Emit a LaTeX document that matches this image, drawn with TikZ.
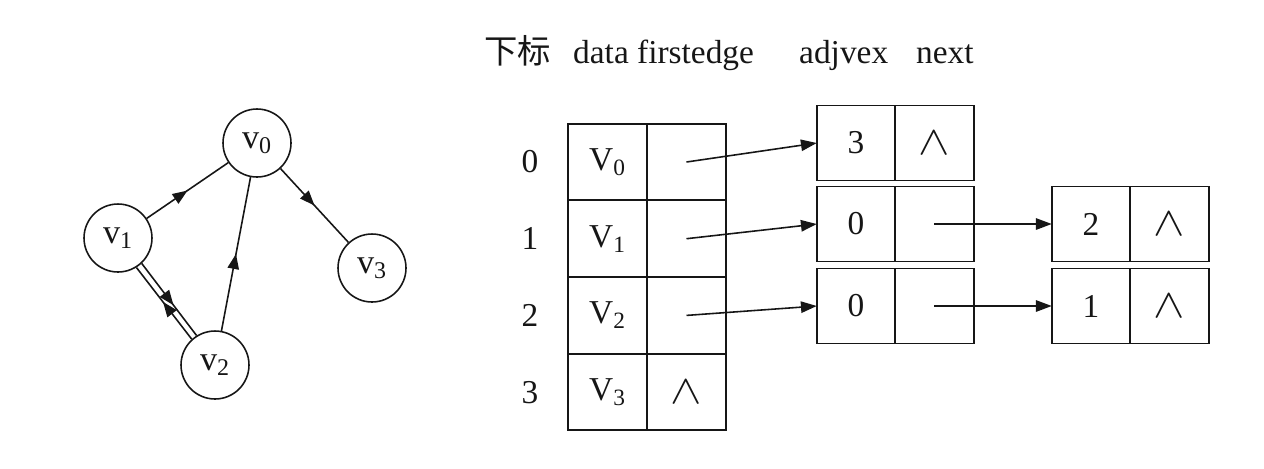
\documentclass[tikz,border=0pt]{standalone}
\usepackage{graphicx}
\usepackage{fontspec}
\setmainfont{Liberation Serif}
\newfontfamily\cjk{Noto Sans CJK SC}
\usetikzlibrary{arrows.meta,positioning,decorations.markings}
\definecolor{ink}{HTML}{161616}
\newcommand\emptyptr{\scalebox{1.55}[1.35]{$\wedge$}}
\tikzset{cell/.style={draw=ink,line width=1pt,minimum width=1.58cm,minimum height=1.53cm,inner sep=0pt,outer sep=0pt,font=\fontsize{19}{22}\selectfont,text=ink},ecell/.style={cell,minimum width=1.57cm,minimum height=1.5cm},vtx/.style={circle,draw=ink,line width=0.9pt,minimum size=1.36cm,inner sep=0pt,font=\fontsize{19.5}{22}\selectfont,text=ink},lbl/.style={font=\fontsize{19}{22}\selectfont,text=ink},arr/.style={-{Triangle[length=9pt,width=6.5pt]},line width=0.9pt,draw=ink},midarr/.style={line width=0.9pt,draw=ink,postaction={decorate},decoration={markings,mark=at position #1 with {\arrow{Triangle[length=8.5pt,width=6.5pt]}}}}}

\begin{document}
\begin{tikzpicture}[x=0.02cm,y=-0.02cm]
\useasboundingbox (0,0) rectangle (1264,468);
\node[vtx] (v0) at (257,143) {v\textsubscript{0}};
\node[vtx] (v1) at (118,238) {v\textsubscript{1}};
\node[vtx] (v2) at (215,365) {v\textsubscript{2}};
\node[vtx] (v3) at (372,268) {v\textsubscript{3}};
\draw[midarr=0.5] (v1) -- (v0);
\draw[midarr=0.5] (v0) -- (v3);
\draw[midarr=0.5] (v2) -- (v0);
\draw[midarr=0.58] (v1.-47) -- (v2.122);
\draw[midarr=0.52] (v2.132) -- (v1.-58);
\node[lbl,anchor=base west] (hidx) at (478,63) {\cjk 下标};
\node[lbl,anchor=base west] (hdata) at (567,63) {data firstedge};
\node[lbl,anchor=base west] (hadj) at (793,63) {adjvex};
\node[lbl,anchor=base west] (hnext) at (910,63) {next};
\foreach \i/\c in {0/{},1/{},2/{},3/{\emptyptr}}{
\node[cell] (d\i) at (607.5,162+76.7*\i) {V\textsubscript{\i}};
\node[cell,right=0pt of d\i] (f\i) {\c};
\node[lbl] (n\i) at (530,162+76.7*\i) {\i};}
\node[ecell] (e0a) at (856,143) {3};
\node[ecell,right=0pt of e0a] (e0b) {\emptyptr};
\node[ecell] (e1a) at (856,224) {0};
\node[ecell,right=0pt of e1a] (e1b) {};
\node[ecell] (e2a) at (856,306) {0};
\node[ecell,right=0pt of e2a] (e2b) {};
\node[ecell] (g1a) at (1091,224) {2};
\node[ecell,right=0pt of g1a] (g1b) {\emptyptr};
\node[ecell] (g2a) at (1091,306) {1};
\node[ecell,right=0pt of g2a] (g2b) {\emptyptr};
\draw[arr] (f0.center) -- (e0a.west);
\draw[arr] (f1.center) -- (e1a.west);
\draw[arr] (f2.center) -- (e2a.west);
\draw[arr] (e1b.center) -- (g1a.west);
\draw[arr] (e2b.center) -- (g2a.west);
\end{tikzpicture}
\end{document}
